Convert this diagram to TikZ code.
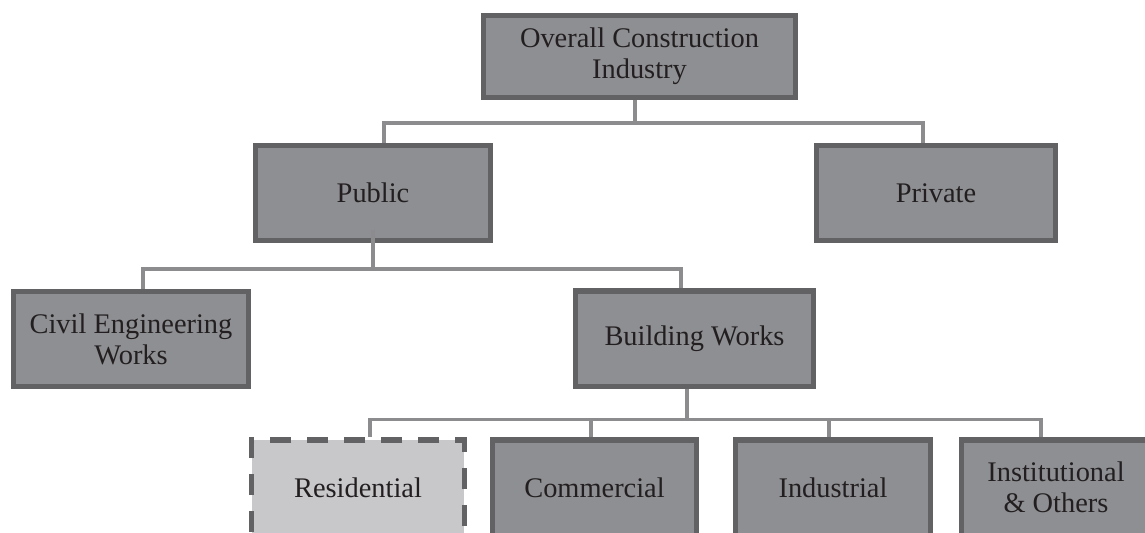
\documentclass[tikz,border=0pt]{standalone}
\usepackage{fontspec}
\setmainfont{Liberation Serif}
\usetikzlibrary{positioning}
\definecolor{boxfill}{RGB}{142,143,147}
\definecolor{boxedge}{RGB}{98,98,100}
\definecolor{lightfill}{RGB}{200,200,202}
\definecolor{linkgray}{RGB}{140,140,143}
\definecolor{ink}{RGB}{35,31,32}
\tikzset{
  unit/.style={
    draw=boxedge, line width=2.6pt, fill=boxfill,
    text=ink, align=center, inner sep=2pt,
    font=\fontsize{14.2}{15.5}\selectfont
  },
  focus/.style={
    unit, fill=lightfill, dash pattern=on 10.5pt off 8pt
  },
  branch/.style={draw=linkgray, line width=1.8pt}
}
\begin{document}
\begin{tikzpicture}
\useasboundingbox (0,0) rectangle (572.5pt,-266.5pt);
\clip (0,0) rectangle (572.5pt,-266.5pt);

% ---------- Top level ----------
\node[unit, minimum width=155.9pt, minimum height=40.9pt] (over)
  at (319.75pt,-28.25pt) {Overall Construction\\Industry};

% ---------- Sectors ----------
\node[unit, minimum width=117.4pt, minimum height=47.4pt,
      below=21.5pt of over, xshift=-133.25pt] (pub) {Public};
\node[unit, minimum width=119.4pt, minimum height=47.4pt,
      right=160.5pt of pub] (pri) {Private};

% ---------- Public works ----------
\node[unit, minimum width=117.4pt, minimum height=47.4pt,
      below=23pt of pub, xshift=-121pt] (civ) {Civil Engineering\\Works};
\node[unit, minimum width=118.9pt, minimum height=47.9pt,
      right=161pt of civ] (bw) {Building Works};

% ---------- Building types (run off the bottom edge) ----------
\node[focus, minimum width=106.4pt, minimum height=47.6pt,
      below=24pt of bw, xshift=-168.25pt] (res) {Residential};
\node[unit, minimum width=101.9pt, minimum height=47.6pt,
      right=11.5pt of res] (com) {Commercial};
\node[unit, minimum width=97.4pt, minimum height=47.6pt,
      right=17pt of com] (ind) {Industrial};
\node[unit, minimum width=94.4pt, minimum height=47.6pt,
      right=13pt of ind] (ins) {Institutional\\\& Others};

% ---------- Tree lines ----------
\draw[branch] ([xshift=-2.25pt]over.south) -- ++(0,-11.5pt) -| ([xshift=5.5pt]pub.north);
\draw[branch] ([xshift=-2.25pt]over.south) -- ++(0,-11.5pt) -| ([xshift=-6.5pt]pri.north);

\draw[branch] ([yshift=6.5pt]pub.south) -- ++(0,-19.5pt) -| ([xshift=6pt]civ.north);
\draw[branch] ([yshift=6.5pt]pub.south) -- ++(0,-19.5pt) -| ([xshift=-6.75pt]bw.north);

\draw[branch] ([xshift=-3.75pt]bw.south) -- ++(0,-15pt) -| ([xshift=6pt]res.north);
\draw[branch] ([xshift=-3.75pt]bw.south) -- ++(0,-15pt) -| ([xshift=-1.75pt]com.north);
\draw[branch] ([xshift=-3.75pt]bw.south) -- ++(0,-15pt) -| ([xshift=-2pt]ind.north);
\draw[branch] ([xshift=-3.75pt]bw.south) -- ++(0,-15pt) -| ([xshift=-7.5pt]ins.north);

\end{tikzpicture}
\end{document}
